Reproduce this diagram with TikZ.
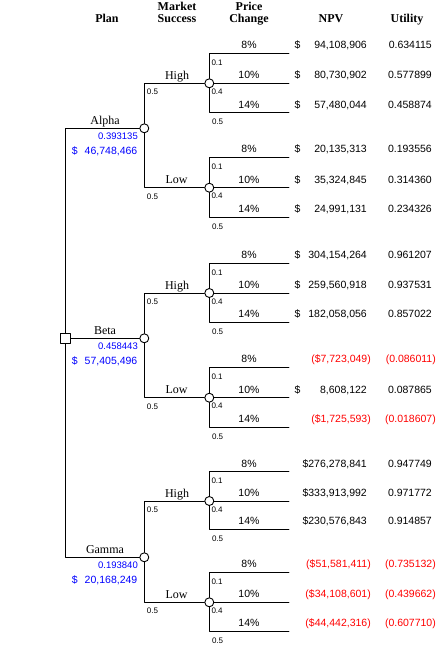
\documentclass[tikz,border=0pt]{standalone}
\usepackage{fontspec}
\setmainfont{Liberation Serif}
\newfontfamily\numfont{Liberation Sans}

\begin{document}
\begin{tikzpicture}[line cap=round,line join=round,x=1pt,y=-1pt,
    every node/.style={inner sep=0pt},
    branch/.style={line width=0.9pt},
    chance/.style={circle,draw,fill=white,line width=0.9pt,minimum size=9pt},
    decision/.style={rectangle,draw,fill=white,line width=0.9pt,minimum size=10pt},
    head/.style={font=\fontsize{12}{13}\selectfont\bfseries,anchor=base},
    lab/.style={font=\fontsize{12}{13}\selectfont,anchor=base},
    pct/.style={font=\numfont\fontsize{10.5}{12}\selectfont,anchor=base},
    npv/.style={font=\numfont\fontsize{10.5}{12}\selectfont,anchor=base east},
    dol/.style={font=\numfont\fontsize{10.5}{12}\selectfont,anchor=base west},
    prob/.style={font=\numfont\fontsize{8}{9}\selectfont,anchor=base west},
    pprob/.style={font=\numfont\fontsize{9.5}{10}\selectfont,anchor=base east,text=blue},
    neg/.style={text=red}]
  \useasboundingbox (0,0) rectangle (440,646);

  %%%% ENCABEZADOS
  \node[head] (hplan) at (107,22) {Plan};
  \node[head] (hmkt) at (177,10) {Market};
  \node[head] (hsucc) at (177,22.5) {Success};
  \node[head] (hprice) at (249,10) {Price};
  \node[head] (hchange) at (249,22.5) {Change};
  \node[head] (hnpv) at (331,22) {NPV};
  \node[head] (hutil) at (407,22) {Utility};

  %%%% DECISION
  \node[decision] (root) at (65.5,338.3) {};
  \node[chance] (alpha) at (144.3,128.3) {};
  \node[chance] (beta) at (144.3,338.3) {};
  \node[chance] (gamma) at (144.3,557.3) {};
  \draw[branch] (root) |- (alpha);
  \draw[branch] (root) -- (beta);
  \draw[branch] (root) |- (gamma);

  \node[lab] (lalpha) at (105,124.8) {Alpha};
  \node[pprob] (palpha) at (138,139.8) {0.393135};
  \node[dol,text=blue] (dalpha) at (71.7,154.3) {\$};
  \node[npv,text=blue] (valpha) at (137.5,154.3) {46,748,466};

  \node[lab] (lbeta) at (105,334.8) {Beta};
  \node[pprob] (pbeta) at (138,349.8) {0.458443};
  \node[dol,text=blue] (dbeta) at (71.7,364.3) {\$};
  \node[npv,text=blue] (vbeta) at (137.5,364.3) {57,405,496};

  \node[lab] (lgamma) at (105,553.8) {Gamma};
  \node[pprob] (pgamma) at (138,568.8) {0.193840};
  \node[dol,text=blue] (dgamma) at (71.7,583.3) {\$};
  \node[npv,text=blue] (vgamma) at (137.5,583.3) {20,168,249};

  %%%% MERCADO
  \node[chance] (ah) at (209.3,83.3) {};
  \node[chance] (al) at (209.3,187.7) {};
  \node[chance] (bh) at (209.3,293) {};
  \node[chance] (bl) at (209.3,397.7) {};
  \node[chance] (gh) at (209.3,501) {};
  \node[chance] (gl) at (209.3,602.3) {};
  \draw[branch] (alpha) |- (ah);
  \draw[branch] (alpha) |- (al);
  \draw[branch] (beta) |- (bh);
  \draw[branch] (beta) |- (bl);
  \draw[branch] (gamma) |- (gh);
  \draw[branch] (gamma) |- (gl);

  \node[lab] (lah) at (177,79.3) {High};
  \node[prob] (pah) at (146.7,94.8) {0.5};
  \node[lab] (lal) at (176.5,183.7) {Low};
  \node[prob] (pal) at (146.7,199.2) {0.5};
  \node[lab] (lbh) at (177,289) {High};
  \node[prob] (pbh) at (146.7,304.5) {0.5};
  \node[lab] (lbl) at (176.5,393.7) {Low};
  \node[prob] (pbl) at (146.7,409.2) {0.5};
  \node[lab] (lgh) at (177,497) {High};
  \node[prob] (pgh) at (146.7,512.5) {0.5};
  \node[lab] (lgl) at (176.5,598.3) {Low};
  \node[prob] (pgl) at (146.7,613.8) {0.5};

  %%%% PRECIO
  \coordinate (ah1) at (289,53.3);  \coordinate (ah2) at (289,83.3);  \coordinate (ah3) at (289,112.7);
  \coordinate (al1) at (289,157.3); \coordinate (al2) at (289,187.7); \coordinate (al3) at (289,217.3);
  \coordinate (bh1) at (289,263.3); \coordinate (bh2) at (289,293);   \coordinate (bh3) at (289,322.3);
  \coordinate (bl1) at (289,367.3); \coordinate (bl2) at (289,397.7); \coordinate (bl3) at (289,427.3);
  \coordinate (gh1) at (289,471.7); \coordinate (gh2) at (289,501);   \coordinate (gh3) at (289,529.3);
  \coordinate (gl1) at (289,572.3); \coordinate (gl2) at (289,602.3); \coordinate (gl3) at (289,631);
  \draw[branch] (ah) |- (ah1) (ah) -- (ah2) (ah) |- (ah3);
  \draw[branch] (al) |- (al1) (al) -- (al2) (al) |- (al3);
  \draw[branch] (bh) |- (bh1) (bh) -- (bh2) (bh) |- (bh3);
  \draw[branch] (bl) |- (bl1) (bl) -- (bl2) (bl) |- (bl3);
  \draw[branch] (gh) |- (gh1) (gh) -- (gh2) (gh) |- (gh3);
  \draw[branch] (gl) |- (gl1) (gl) -- (gl2) (gl) |- (gl3);

  \node[prob] (pah1) at (211.3,65) {0.1};  \node[prob] (pah2) at (211.3,94.3) {0.4};  \node[prob] (pah3) at (211.8,124.7) {0.5};
  \node[prob] (pal1) at (211.3,169) {0.1}; \node[prob] (pal2) at (211.3,198.7) {0.4}; \node[prob] (pal3) at (211.8,229.3) {0.5};
  \node[prob] (pbh1) at (211.3,275) {0.1}; \node[prob] (pbh2) at (211.3,304) {0.4};   \node[prob] (pbh3) at (211.8,334.3) {0.5};
  \node[prob] (pbl1) at (211.3,379) {0.1}; \node[prob] (pbl2) at (211.3,408.7) {0.4}; \node[prob] (pbl3) at (211.8,439.3) {0.5};
  \node[prob] (pgh1) at (211.3,483.4) {0.1}; \node[prob] (pgh2) at (211.3,512) {0.4}; \node[prob] (pgh3) at (211.8,541.3) {0.5};
  \node[prob] (pgl1) at (211.3,584) {0.1}; \node[prob] (pgl2) at (211.3,613.3) {0.4}; \node[prob] (pgl3) at (211.8,643) {0.5};

  %%%% ALPHA - HIGH
  \draw (249,48.8) node[pct] (tah1) {8\%} (294.5,48.8) node[dol] (sah1) {\$} (367,48.8) node[npv] (nah1) {94,108,906} (432,48.8) node[npv] (uah1) {0.634115};
  \draw (249,78.8) node[pct] (tah2) {10\%} (294.5,78.8) node[dol] (sah2) {\$} (367,78.8) node[npv] (nah2) {80,730,902} (432,78.8) node[npv] (uah2) {0.577899};
  \draw (249,108.2) node[pct] (tah3) {14\%} (294.5,108.2) node[dol] (sah3) {\$} (367,108.2) node[npv] (nah3) {57,480,044} (432,108.2) node[npv] (uah3) {0.458874};
  %%%% ALPHA - LOW
  \draw (249,152.8) node[pct] (tal1) {8\%} (294.5,152.8) node[dol] (sal1) {\$} (367,152.8) node[npv] (nal1) {20,135,313} (432,152.8) node[npv] (ual1) {0.193556};
  \draw (249,183.2) node[pct] (tal2) {10\%} (294.5,183.2) node[dol] (sal2) {\$} (367,183.2) node[npv] (nal2) {35,324,845} (432,183.2) node[npv] (ual2) {0.314360};
  \draw (249,212.8) node[pct] (tal3) {14\%} (294.5,212.8) node[dol] (sal3) {\$} (367,212.8) node[npv] (nal3) {24,991,131} (432,212.8) node[npv] (ual3) {0.234326};
  %%%% BETA - HIGH
  \draw (249,258.8) node[pct] (tbh1) {8\%} (294.5,258.8) node[dol] (sbh1) {\$} (367,258.8) node[npv] (nbh1) {304,154,264} (432,258.8) node[npv] (ubh1) {0.961207};
  \draw (249,288.5) node[pct] (tbh2) {10\%} (294.5,288.5) node[dol] (sbh2) {\$} (367,288.5) node[npv] (nbh2) {259,560,918} (432,288.5) node[npv] (ubh2) {0.937531};
  \draw (249,317.8) node[pct] (tbh3) {14\%} (294.5,317.8) node[dol] (sbh3) {\$} (367,317.8) node[npv] (nbh3) {182,058,056} (432,317.8) node[npv] (ubh3) {0.857022};
  %%%% BETA - LOW
  \draw (249,362.8) node[pct] (tbl1) {8\%} (371,362.8) node[npv,neg] (nbl1) {(\$7,723,049)} (436,362.8) node[npv,neg] (ubl1) {(0.086011)};
  \draw (249,393.2) node[pct] (tbl2) {10\%} (294.5,393.2) node[dol] (sbl2) {\$} (367,393.2) node[npv] (nbl2) {8,608,122} (432,393.2) node[npv] (ubl2) {0.087865};
  \draw (249,422.8) node[pct] (tbl3) {14\%} (371,422.8) node[npv,neg] (nbl3) {(\$1,725,593)} (436,422.8) node[npv,neg] (ubl3) {(0.018607)};
  %%%% GAMMA - HIGH
  \draw (249,467.2) node[pct] (tgh1) {8\%} (367,467.2) node[npv] (ngh1) {\$276,278,841} (432,467.2) node[npv] (ugh1) {0.947749};
  \draw (249,496.5) node[pct] (tgh2) {10\%} (367,496.5) node[npv] (ngh2) {\$333,913,992} (432,496.5) node[npv] (ugh2) {0.971772};
  \draw (249,524.8) node[pct] (tgh3) {14\%} (367,524.8) node[npv] (ngh3) {\$230,576,843} (432,524.8) node[npv] (ugh3) {0.914857};
  %%%% GAMMA - LOW
  \draw (249,567.8) node[pct] (tgl1) {8\%} (371,567.8) node[npv,neg] (ngl1) {(\$51,581,411)} (436,567.8) node[npv,neg] (ugl1) {(0.735132)};
  \draw (249,597.8) node[pct] (tgl2) {10\%} (371,597.8) node[npv,neg] (ngl2) {(\$34,108,601)} (436,597.8) node[npv,neg] (ugl2) {(0.439662)};
  \draw (249,626.5) node[pct] (tgl3) {14\%} (371,626.5) node[npv,neg] (ngl3) {(\$44,442,316)} (436,626.5) node[npv,neg] (ugl3) {(0.607710)};
\end{tikzpicture}
\end{document}
